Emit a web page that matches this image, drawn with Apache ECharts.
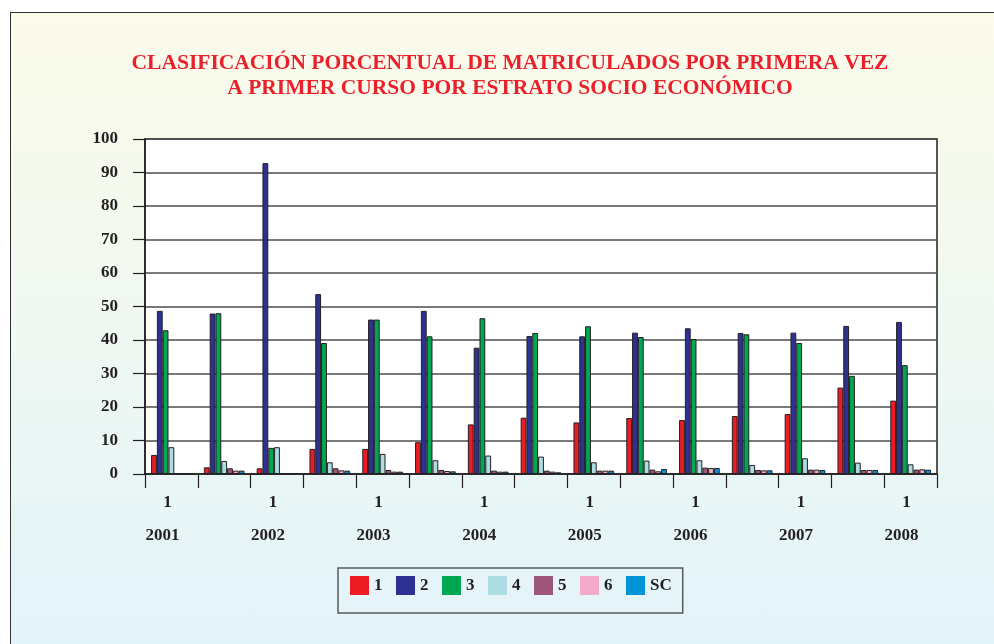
<!DOCTYPE html>
<html>
<head>
<meta charset="utf-8">
<title>Clasificación porcentual de matriculados</title>
<script src="https://cdn.jsdelivr.net/npm/echarts@6/dist/echarts.min.js"></script>
<style>
  html, body { margin: 0; padding: 0; background: #fff; }
  #frame {
    position: absolute; left: 10px; top: 12px; width: 990px; height: 640px;
    border-left: 1.5px solid #333; border-top: 1.5px solid #333;
    background: linear-gradient(to bottom, #fbfbea 0%, #f3f9ef 35%, #e2f3fa 100%);
  }
  #chart { position: absolute; left: 0; top: 0; width: 994px; height: 644px; }
</style>
</head>
<body>
<div id="frame"></div>
<div id="chart"></div>
<script>
/* Matriculados por primera vez — estrato socio económico */

const FONT = '"Liberation Serif", "DejaVu Serif", serif';
const INK = "#231f20";

// categorías: año + curso (solo se rotulan las de curso 1)
const years = ["2001", "2001", "2002", "2002", "2003", "2003", "2004", "2004",
               "2005", "2005", "2006", "2006", "2007", "2007", "2008"];
const cursos = ["1", "2", "1", "2", "1", "2", "1", "2", "1", "2", "1", "2", "1", "2", "1"];

const estratos = ["1", "2", "3", "4", "5", "6", "SC"];
const colores = ["#ed1c24", "#2e3192", "#00a651", "#abdde3", "#a0567c", "#f4a9c8", "#0093d8"];

// porcentaje por estrato
const estrato1  = [5.7, 2.0, 1.7, 7.5, 7.5, 9.5, 14.8, 16.8, 15.4, 16.7, 16.1, 17.3, 17.9, 25.8, 21.9];
const estrato2  = [48.7, 47.9, 92.8, 53.7, 46.1, 48.7, 37.7, 41.2, 41.1, 42.2, 43.5, 42.1, 42.2, 44.2, 45.4];
const estrato3  = [42.9, 48.0, 7.8, 39.1, 46.1, 41.1, 46.5, 42.1, 44.1, 40.9, 40.3, 41.7, 39.1, 29.3, 32.5];
const estrato4  = [8.0, 3.9, 8.0, 3.5, 6.0, 4.1, 5.5, 5.2, 3.5, 4.0, 4.1, 2.7, 4.7, 3.4, 2.9];
const estrato5  = [0.3, 1.7, 0.3, 1.7, 1.2, 1.2, 1.0, 1.0, 1.0, 1.3, 1.9, 1.2, 1.3, 1.2, 1.3];
const estrato6  = [0.3, 1.0, 0.3, 1.1, 0.7, 0.9, 0.7, 0.7, 1.0, 0.8, 1.8, 1.1, 1.3, 1.2, 1.4];
const estratoSC = [0.3, 1.0, 0.3, 1.0, 0.7, 0.8, 0.7, 0.5, 1.0, 1.5, 1.8, 1.1, 1.2, 1.2, 1.3];

const yTicks = [0, 10, 20, 30, 40, 50, 60, 70, 80, 90, 100];

const valores = [estrato1, estrato2, estrato3, estrato4, estrato5, estrato6, estratoSC];

const chart = echarts.init(document.getElementById("chart"), null, {renderer: "canvas"});

chart.setOption({
  backgroundColor: "transparent",
  animation: false,
  color: colores,
  title: {
    text: "CLASIFICACIÓN PORCENTUAL DE MATRICULADOS POR PRIMERA VEZ\nA PRIMER CURSO POR ESTRATO SOCIO ECONÓMICO",
    left: 505, top: 46, textAlign: "center",
    textStyle: {fontFamily: FONT, fontWeight: "bold", fontSize: 21.5, lineHeight: 25, color: "#e8212b"},
  },
  legend: {
    left: 338, top: 568,
    padding: [8, 11, 18, 12],
    borderColor: "#58595b", borderWidth: 1.5,
    itemWidth: 19, itemHeight: 19, itemGap: 13.5,
    icon: "rect",
    itemStyle: {borderWidth: 0},
    textStyle: {fontFamily: FONT, fontWeight: "bold", fontSize: 17, color: INK},
    data: estratos,
  },
  grid: {
    left: 145, right: 57, top: 139, bottom: 170,
    show: true, backgroundColor: "#fff", borderColor: INK, borderWidth: 1.5,
  },
  xAxis: {
    type: "category",
    data: years.map((y, i) => y + "-" + cursos[i]),
    axisLine: {lineStyle: {color: INK, width: 1.5}},
    axisTick: {show: true, interval: 0, length: 14, lineStyle: {color: INK, width: 1.2}},
    axisLabel: {
      interval: 1, margin: 12,
      formatter: (v, i) => `{s|${cursos[i]}}\n{y|${years[i]}}`,
      rich: {
        s: {fontFamily: FONT, fontWeight: "bold", fontSize: 17, color: INK, lineHeight: 33, padding: [0, 8, 0, 0]},
        y: {fontFamily: FONT, fontWeight: "bold", fontSize: 17, color: INK, lineHeight: 33, padding: [0, 18, 0, 0]},
      },
    },
  },
  yAxis: {
    type: "value",
    min: yTicks[0], max: yTicks[yTicks.length - 1], interval: 10,
    axisLine: {show: true, lineStyle: {color: INK, width: 1.5}},
    axisTick: {show: true, length: 12, lineStyle: {color: INK, width: 1.2}},
    axisLabel: {margin: 27, fontFamily: FONT, fontWeight: "bold", fontSize: 17, color: INK},
    splitLine: {lineStyle: {color: "#4d4d4f", width: 1.5}},
  },
  series: estratos.map((name, k) => ({
    name: name,
    type: "bar",
    data: valores[k],
    barGap: "0%",
    barCategoryGap: "23%",
    itemStyle: {color: colores[k], borderColor: INK, borderWidth: 1},
  })),
});

window.addEventListener("resize", () => chart.resize());
</script>
</body>
</html>
